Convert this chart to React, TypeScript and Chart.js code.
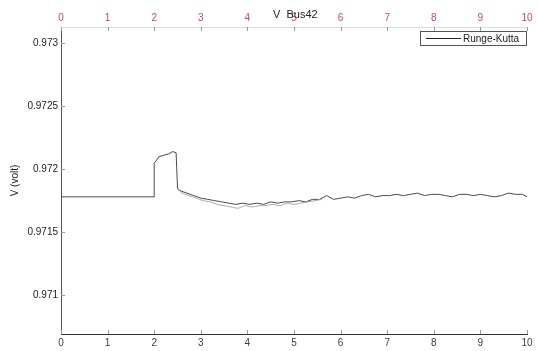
import React, { useEffect, useRef } from "react";
import { Chart, registerables } from "chart.js";

Chart.register(...registerables);

const titleText = "V  Bus42";
const yAxisLabel = "V (volt)";
const legendLabel = "Runge-Kutta";
const xTicks = [0, 1, 2, 3, 4, 5, 6, 7, 8, 9, 10];
const yTicks = [0.971, 0.9715, 0.972, 0.9725, 0.973];

const times = [
  0, 2.0, 2.0, 2.05, 2.1, 2.2, 2.3, 2.4, 2.47, 2.5, 2.55, 2.7, 2.85, 3.0, 3.15, 3.3, 3.45, 3.6, 3.75, 3.9,
  4.05, 4.2, 4.35, 4.5, 4.65, 4.8, 4.95, 5.1, 5.25, 5.4, 5.55, 5.7, 5.85, 6.0, 6.15, 6.3, 6.45, 6.6, 6.75,
  6.9, 7.05, 7.2, 7.35, 7.5, 7.65, 7.8, 7.95, 8.1, 8.25, 8.4, 8.55, 8.7, 8.85, 9.0, 9.15, 9.3, 9.45, 9.6,
  9.75, 9.9, 10,
];
const voltage = [
  0.97178, 0.97178, 0.97205, 0.97207, 0.9721, 0.97211, 0.97212, 0.97214, 0.97213, 0.97185, 0.97183,
  0.97181, 0.97179, 0.97177, 0.97176, 0.97175, 0.97174, 0.97173, 0.97172, 0.97173, 0.97172, 0.97173,
  0.97172, 0.97174, 0.97173, 0.97174, 0.97174, 0.97175, 0.97174, 0.97176, 0.97176, 0.97179, 0.97176,
  0.97177, 0.97178, 0.97177, 0.97179, 0.9718, 0.97178, 0.97179, 0.97179, 0.9718, 0.97179, 0.9718,
  0.97181, 0.97179, 0.9718, 0.9718, 0.97179, 0.97178, 0.9718, 0.9718, 0.97179, 0.9718, 0.97179,
  0.97178, 0.97179, 0.97181, 0.9718, 0.9718, 0.97178,
];
const shadowTimes = [2.5, 2.6, 2.75, 2.9, 3.05, 3.2, 3.35, 3.5, 3.65, 3.8, 3.95, 4.1, 4.25, 4.4, 4.55, 4.7, 4.85, 5.0, 5.15, 5.3, 5.45, 5.6];
const shadowVoltage = [
  0.97184, 0.97181, 0.97179, 0.97177, 0.97175, 0.97174, 0.97172, 0.97171, 0.9717, 0.97169, 0.97171,
  0.9717, 0.97171, 0.97171, 0.97172, 0.97171, 0.97173, 0.97172, 0.97173, 0.97174, 0.97175, 0.97176,
];

const FONT = "Liberation Sans, Arial, sans-serif";

const decorPlugin = {
  id: "decor",
  afterDraw(chart: any) {
    const ctx = chart.ctx;
    const area = chart.chartArea;
    const sx = chart.scales.x;
    const sy = chart.scales.y;
    ctx.save();
    ctx.lineWidth = 1;
    ctx.strokeStyle = "#999";
    xTicks.forEach((t) => {
      const px = Math.round(sx.getPixelForValue(t)) + 0.5;
      ctx.beginPath();
      ctx.moveTo(px, area.bottom);
      ctx.lineTo(px, area.bottom - 4);
      ctx.moveTo(px, area.top);
      ctx.lineTo(px, area.top + 4);
      ctx.stroke();
    });
    yTicks.forEach((v) => {
      const py = Math.round(sy.getPixelForValue(v)) + 0.5;
      ctx.beginPath();
      ctx.moveTo(area.left, py);
      ctx.lineTo(area.left + 4, py);
      ctx.stroke();
    });
    ctx.fillStyle = "#222";
    ctx.font = `11px ${FONT}`;
    ctx.textBaseline = "middle";
    ctx.textAlign = "left";
    ctx.fillText(titleText, 273, 15);
    const lx = 420, ly = 31, lw = 107, lh = 15;
    ctx.fillStyle = "#fff";
    ctx.fillRect(lx, ly, lw, lh);
    ctx.strokeStyle = "#555";
    ctx.strokeRect(lx + 0.5, ly + 0.5, lw - 1, lh - 1);
    ctx.strokeStyle = "#222";
    ctx.beginPath();
    ctx.moveTo(426, ly + 7.5);
    ctx.lineTo(461, ly + 7.5);
    ctx.stroke();
    ctx.fillStyle = "#222";
    ctx.font = `10px ${FONT}`;
    ctx.fillText(legendLabel, 463, ly + 8);
    ctx.restore();
  },
};

export default function App() {
  const ref = useRef<HTMLCanvasElement>(null);
  useEffect(() => {
    document.body.style.margin = "0";
    const mainData = times.map((t, i) => ({ x: t, y: voltage[i] }));
    const shadowData = shadowTimes.map((t, i) => ({ x: t, y: shadowVoltage[i] }));
    const chart = new Chart(ref.current!, {
      type: "line",
      data: {
        datasets: [
          {
            label: legendLabel + " shadow",
            data: shadowData,
            borderColor: "#aaa",
            borderWidth: 1,
            pointRadius: 0,
            tension: 0.3,
          },
          {
            label: legendLabel,
            data: mainData,
            borderColor: "#4a4a4a",
            borderWidth: 1,
            pointRadius: 0,
            tension: 0,
          },
        ],
      },
      options: {
        animation: false,
        responsive: false,
        layout: { padding: { left: 0, right: 12, top: 0, bottom: 0 } },
        plugins: { legend: { display: false }, tooltip: { enabled: false }, title: { display: false } },
        scales: {
          x: {
            type: "linear",
            position: "bottom",
            min: 0,
            max: 10,
            afterBuildTicks: (s: any) => { s.ticks = xTicks.map((v) => ({ value: v })); },
            ticks: { color: "#3a3a5a", font: { size: 10, family: FONT }, padding: 3, maxRotation: 0 },
            grid: { display: false, drawTicks: false },
            border: { color: "#333", width: 1 },
            afterFit: (s: any) => { s.height = 17; },
          },
          x2: {
            type: "linear",
            position: "top",
            min: 0,
            max: 10,
            afterBuildTicks: (s: any) => { s.ticks = xTicks.map((v) => ({ value: v })); },
            ticks: { color: "#c8486a", font: { size: 10, family: FONT }, padding: 3, maxRotation: 0 },
            grid: { display: false, drawTicks: false },
            border: { color: "#ddd", width: 1 },
            afterFit: (s: any) => { s.height = 27; },
          },
          y: {
            type: "linear",
            min: 0.97069,
            max: 0.97313,
            afterBuildTicks: (s: any) => { s.ticks = yTicks.map((v) => ({ value: v })); },
            ticks: {
              color: "#222",
              font: { size: 10, family: FONT },
              padding: 3,
              callback: (v: any) => String(Number(v)),
            },
            title: { display: true, text: yAxisLabel, color: "#222", font: { size: 10, family: FONT }, padding: { top: 9, bottom: 0 } },
            grid: { display: false, drawTicks: false },
            border: { color: "#555", width: 1 },
            afterFit: (s: any) => { s.width = 61; },
          },
        },
      },
      plugins: [decorPlugin],
    });
    return () => chart.destroy();
  }, []);
  return <canvas ref={ref} width={539} height={351} style={{ display: "block" }} />;
}
